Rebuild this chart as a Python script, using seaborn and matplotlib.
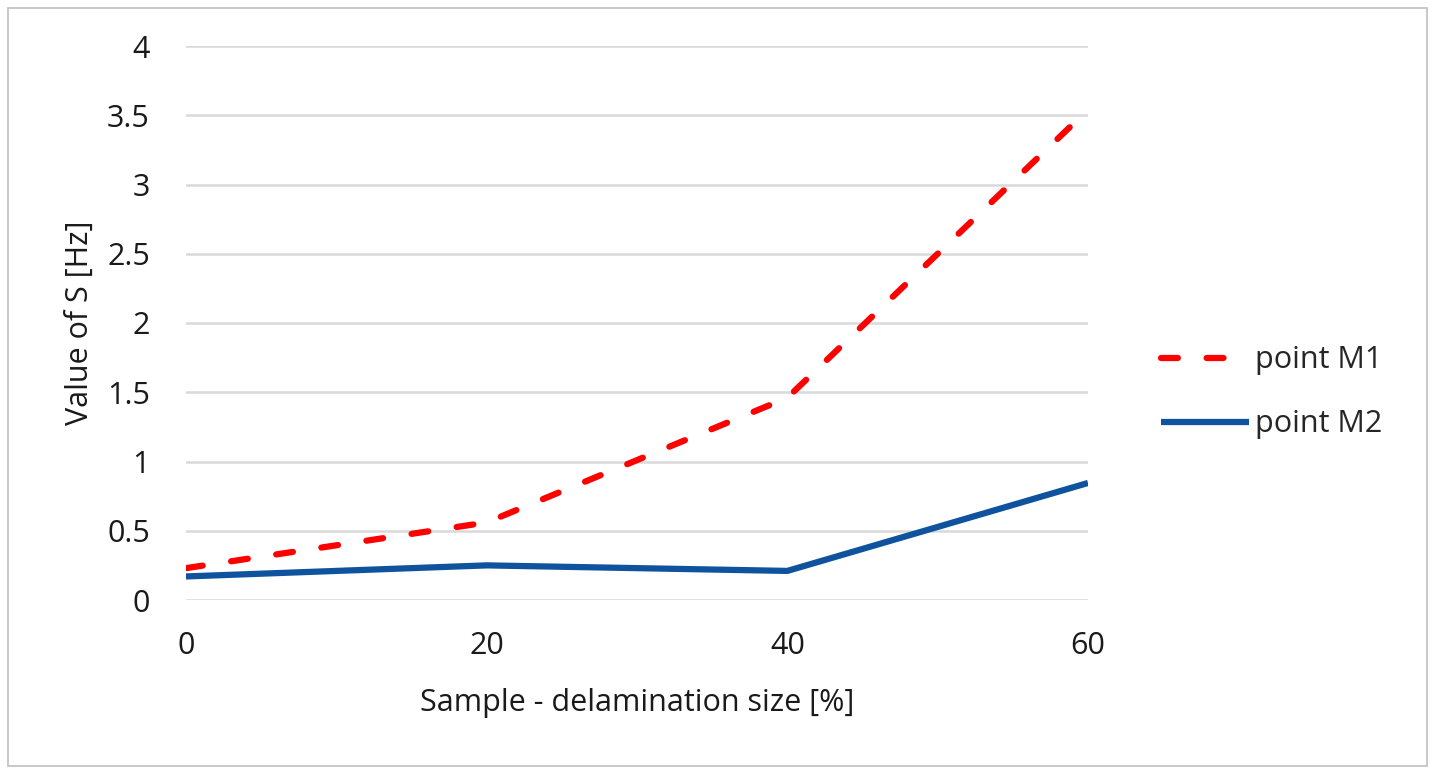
import numpy as np
import matplotlib.pyplot as plt
import seaborn as sns
import pandas as pd

# values
delamination = [0, 20, 40, 60]
s_m1 = [0.23, 0.56, 1.46, 3.54]
s_m2 = [0.17, 0.25, 0.21, 0.845]
y_ticks = [0, 0.5, 1, 1.5, 2, 2.5, 3, 3.5, 4]
y_tick_labels = ['0', '0.5', '1', '1.5', '2', '2.5', '3', '3.5', '4']

df = pd.DataFrame({
    'size': delamination * 2,
    'S': s_m1 + s_m2,
    'point': ['point M1'] * 4 + ['point M2'] * 4,
})

sns.set_theme(style='white')
plt.rcParams['font.family'] = ['Open Sans', 'DejaVu Sans']

fig = plt.figure(figsize=(14.35, 7.74), dpi=100)
ax = fig.add_axes([186 / 1435, 1 - 600 / 774, (1088 - 186) / 1435, (600 - 46) / 774])

sns.lineplot(data=df, x='size', y='S', hue='point', style='point',
             palette={'point M1': '#ff0000', 'point M2': '#0f539e'},
             dashes={'point M1': (2.7, 4.6), 'point M2': ''},
             linewidth=4.5, ax=ax)
for line in ax.get_lines():
    line.set_dash_capstyle('round')
    line.set_solid_capstyle('butt')

ax.set_xlim(0, 60)
ax.set_ylim(0, 4)
ax.set_xticks(delamination)
ax.set_yticks(y_ticks)
ax.set_yticklabels(y_tick_labels)
ax.yaxis.grid(True, color='#d9d9d9', linewidth=1.8)
ax.set_axisbelow(True)
for sp in ax.spines.values():
    sp.set_visible(False)
ax.tick_params(axis='both', labelsize=22, colors='#1a1a1a', length=0)
ax.tick_params(axis='x', pad=22)
ax.tick_params(axis='y', pad=26)
ax.set_xlabel('Sample - delamination size [%]', fontsize=22, color='#1a1a1a', labelpad=20)
ax.set_ylabel('Value of S [Hz]', fontsize=22, color='#1a1a1a', labelpad=9)

handles, labels = ax.get_legend_handles_labels()
leg = ax.legend(handles, labels, loc='center left', bbox_to_anchor=(1.05, 0.375),
                frameon=False, fontsize=22, handlelength=2.9, handletextpad=0.2,
                labelspacing=1.11)
for h in leg.get_lines():
    h.set_linewidth(4.5)

fig.patches.append(plt.Rectangle((8 / 1435, 8 / 774), 1 - 16 / 1435, 1 - 16 / 774,
                                 transform=fig.transFigure, fill=False,
                                 edgecolor='#bfbfbf', linewidth=1.2))

fig.savefig('out.png', dpi=100)
